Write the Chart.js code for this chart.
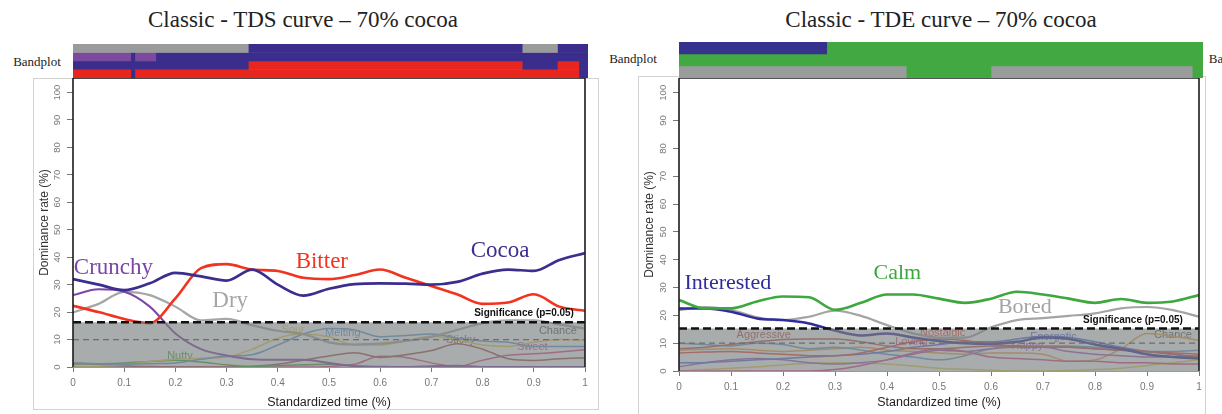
<!DOCTYPE html>
<html>
<head>
<meta charset="utf-8">
<script src="https://cdn.jsdelivr.net/npm/chart.js@4.4.1/dist/chart.umd.min.js"></script>
<style>
  body { margin: 0; width: 1222px; height: 414px; background: #fff; position: relative; overflow: hidden; }
  .txt { position: absolute; font-family: "Liberation Serif", serif; color: #222; white-space: nowrap; line-height: 1; transform: translate(-50%, -50%); }
  .frame { position: absolute; border: 1px solid #d2d2d2; }
  canvas { position: absolute; }
</style>
</head>
<body>
<div class="txt" style="left:303px; top:19px; font-size:23px;">Classic - TDS curve – 70% cocoa</div>
<div class="txt" style="left:941px; top:19px; font-size:23px;">Classic - TDE curve – 70% cocoa</div>
<div class="txt" style="left:37px; top:61px; font-size:13px;">Bandplot</div>
<div class="txt" style="left:633px; top:58px; font-size:13px;">Bandplot</div>
<div class="txt" style="left:1216px; top:58px; font-size:13px;">Ba</div>

<div class="frame" style="left:33px; top:78px; width:564px; height:330px;"></div>
<div class="frame" style="left:638px; top:76px; width:566px; height:337px;"></div>

<canvas id="tdsBand" width="515" height="34" style="left:73px; top:44px;"></canvas>
<canvas id="tdeBand" width="524" height="36" style="left:679px; top:42px;"></canvas>
<canvas id="tdsChart" width="600" height="336" style="left:0px; top:78px;"></canvas>
<canvas id="tdeChart" width="614" height="336" style="left:600px; top:78px;"></canvas>

<script>
// shared axes
const times = [0, 0.05, 0.1, 0.15, 0.2, 0.25, 0.3, 0.35, 0.4, 0.45, 0.5, 0.55, 0.6, 0.65, 0.7, 0.75, 0.8, 0.85, 0.9, 0.95, 1];
const xTickValues = [0, 0.1, 0.2, 0.3, 0.4, 0.5, 0.6, 0.7, 0.8, 0.9, 1];
const yTickValues = [0, 10, 20, 30, 40, 50, 60, 70, 80, 90, 100];
const chanceLevel = 10;

// TDS curve - dominance rate (%)
const tdsCocoa   = [32, 30, 28, 30.5, 34.3, 33, 31.5, 35.5, 30, 26, 28.5, 30.2, 30.5, 30.4, 30, 31, 34, 35.5, 35, 39, 41.5];
const tdsBitter  = [22.3, 20, 17.5, 16, 25, 36, 37.5, 35.5, 35, 32.5, 32, 33.5, 35.5, 32.5, 29.5, 26.5, 23, 23.5, 26.5, 22, 20.5];
const tdsCrunchy = [26.2, 28.3, 27.4, 22, 12.2, 6.5, 4.2, 2.8, 2.6, 2.6, 1.5, 0.3, 0, 0, 0.3, 0.5, 0, 0, 0, 0, 0];
const tdsDry     = [19.9, 23, 27.4, 26.2, 22, 17, 17.5, 15.2, 13.2, 12, 9, 8.2, 8.5, 9.5, 11, 13.5, 16, 17, 17, 15.5, 14];
const tdsMelting = [1.5, 1.2, 1, 1.2, 1.5, 2.8, 4, 4.5, 8, 12, 14, 13.5, 11, 11.5, 12, 10.5, 9.5, 9, 7.5, 7.5, 7.5];
const tdsSour    = [0, 0.3, 0.8, 2, 2.8, 3.2, 3.6, 6.5, 10.5, 12, 11, 8, 8, 9.5, 11.2, 10, 8, 7.5, 9, 10, 9.8];
const tdsNutty   = [1, 1.2, 1.5, 2, 2.5, 1.8, 0.8, 0.2, 0.5, 0.8, 1, 0.5, 0.2, 0, 0, 0, 0, 0, 0, 0, 0];
const tdsSticky  = [0, 0, 0, 0, 0, 0, 0, 0.3, 1, 2.5, 4, 5.2, 3.5, 4.5, 6, 8.5, 6.5, 3, 2.4, 3, 3.4];
const tdsSweet   = [1.5, 1, 0.5, 0.2, 0, 0, 0, 0, 0, 0, 0.2, 1, 3.9, 3.5, 1.5, 0.2, 2.5, 4.3, 4.8, 5.5, 6.3];
const tdsSignificance = 16.3;

// TDE curve - dominance rate (%)
const tdeCalm       = [25.5, 22.5, 22.5, 25, 26.8, 26.5, 22, 24.5, 27.5, 27.5, 26, 24.5, 26, 28.5, 27.5, 26, 24.5, 25.9, 24.5, 25, 27.3];
const tdeInterested = [22.5, 22.5, 21.3, 18.9, 18.3, 17.1, 14.5, 12.8, 13.5, 12, 10.8, 10, 9.8, 10.5, 12, 11.5, 9.5, 8, 6, 5, 4.5];
const tdeBored      = [21.9, 23, 22, 19.3, 18.3, 19.5, 21.7, 19.8, 16.5, 13.5, 12, 12, 15.7, 18.3, 19, 19.8, 20.7, 22.5, 23, 21.9, 19.5];
const tdeAggressive = [8, 8.5, 9.5, 10.5, 11.3, 11.5, 11.5, 10.5, 9, 8, 8, 8.5, 9, 9, 8.5, 8.5, 8, 7.5, 7, 6, 5];
const tdeNostalgic  = [6.5, 6.8, 7, 6.5, 6, 5.5, 5.5, 6.5, 8.5, 10.5, 11.5, 11, 9.5, 9, 8.5, 8.5, 8, 7.5, 7, 6.5, 6];
const tdeLoving     = [0, 0, 0, 0, 0, 0, 0.5, 2, 4, 6.5, 8, 7, 5, 4.5, 4, 3.5, 3.5, 3, 3, 2.5, 2.5];
const tdeEnergetic  = [3, 3, 3.5, 4, 4.5, 5, 5.5, 6, 7, 8.5, 9.5, 10.5, 10.5, 11.5, 12.5, 12, 10.5, 8.5, 7, 6, 5];
const tdeHappy      = [1.5, 3, 4, 4.5, 4, 3, 2.5, 3, 4, 6, 7.5, 7, 8, 8.5, 8.5, 7, 6, 5.5, 5, 5, 5.5];
const tdeUnnamedBlue   = [10, 9.5, 9, 10, 9.5, 8, 8.5, 7.5, 6, 5, 4, 5.5, 8, 9, 9, 9, 8.5, 8, 7, 7, 7.5];
const tdeUnnamedOrange = [7.5, 7.8, 8, 7.5, 7, 7.5, 8, 8.5, 7.5, 7, 6.5, 6, 6.5, 6.5, 6, 3.5, 4, 8, 13.5, 12.5, 11];
const tdeUnnamedYellow = [0, 0.5, 1, 1.5, 2.2, 2.8, 3, 2.8, 2.5, 1.8, 1, 0.6, 0.3, 0, 0, 0.2, 0.5, 1, 2, 3, 4];
const tdeSignificance = 15.3;

// band plots: [row, attribute, start, end]
const tdsBandRows = ['r1', 'r2', 'r3', 'r4'];
const tdsBands = [
  ['r1', 'Dry', 0, 0.343], ['r1', 'Cocoa', 0.343, 0.879], ['r1', 'Dry', 0.879, 0.948], ['r1', 'Cocoa', 0.948, 1.008],
  ['r2', 'Crunchy', 0, 0.113], ['r2', 'Cocoa', 0.113, 0.121], ['r2', 'Crunchy', 0.121, 0.162], ['r2', 'Cocoa', 0.162, 1.008],
  ['r3', 'Cocoa', 0, 0.343], ['r3', 'Bitter', 0.343, 0.879], ['r3', 'Cocoa', 0.879, 0.948], ['r3', 'Bitter', 0.948, 0.99], ['r3', 'Cocoa', 0.99, 1.008],
  ['r4', 'Bitter', 0, 0.113], ['r4', 'Cocoa', 0.113, 0.121], ['r4', 'Bitter', 0.121, 0.99], ['r4', 'Cocoa', 0.99, 1.008]
];
const tdeBandRows = ['r1', 'r2', 'r3'];
const tdeBands = [
  ['r1', 'Interested', 0, 0.284], ['r1', 'Calm', 0.284, 1.008],
  ['r2', 'Calm', 0, 1.008],
  ['r3', 'Bored', 0, 0.437], ['r3', 'Calm', 0.437, 0.6], ['r3', 'Bored', 0.6, 0.987], ['r3', 'Calm', 0.987, 1.008]
];

const colors = {
  Cocoa: '#3a2e8e', Bitter: '#f1331f', Crunchy: '#7c45a6', Dry: '#a6a6a6',
  Melting: '#5b9bd5', Sour: '#e3cf4f', Nutty: '#3daa3d', Sticky: '#a0524d', Sweet: '#e0458f',
  Calm: '#3da83d', Interested: '#2f2c9c', Bored: '#a4a4a4',
  Aggressive: '#c0504d', Nostalgic: '#e8463a', Loving: '#e0458f', Energetic: '#4f6fd8', Happy: '#a05ac8',
  UnnamedBlue: '#5b9bd5', UnnamedOrange: '#f0a040', UnnamedYellow: '#e0d050'
};
const bandColors = { Dry: '#9a9c9c', Cocoa: '#3b2d8c', Crunchy: '#7b4a9e', Bitter: '#e8261d',
  Calm: '#42a842', Interested: '#37318e', Bored: '#9a9c9c' };

function bandChart(id, rows, bands, maxX) {
  const datasets = bands.map(b => ({
    data: rows.map(r => r === b[0] ? [b[2], b[3]] : null),
    backgroundColor: bandColors[b[1]],
    borderColor: bandColors[b[1]],
    borderWidth: 0,
    borderSkipped: false,
    grouped: false,
    barPercentage: 1,
    categoryPercentage: 1
  }));
  new Chart(document.getElementById(id), {
    type: 'bar',
    data: { labels: rows, datasets: datasets },
    options: {
      indexAxis: 'y',
      responsive: false,
      animation: false,
      events: [],
      layout: { padding: 0 },
      plugins: { legend: { display: false }, tooltip: { enabled: false } },
      scales: {
        x: { type: 'linear', min: 0, max: maxX, display: false },
        y: { display: false }
      }
    }
  });
}

function line(name, values, width) {
  return {
    label: name,
    data: values.map((v, i) => ({ x: times[i], y: v })),
    borderColor: colors[name],
    borderWidth: width,
    pointRadius: 0,
    cubicInterpolationMode: 'monotone',
    fill: false
  };
}

function mainChart(id, curves, sig, labelsUnder, labelsOver, lay) {
  const datasets = curves.slice();
  datasets.push({
    label: 'Significance',
    data: [{ x: 0, y: sig }, { x: 1, y: sig }],
    borderColor: '#111',
    borderWidth: 2.6,
    borderDash: [8, 4],
    pointRadius: 0,
    fill: 'origin',
    backgroundColor: 'rgba(125,129,129,0.66)',
    order: -2
  });
  datasets.push({
    label: 'Chance',
    data: [{ x: 0, y: chanceLevel }, { x: 1, y: chanceLevel }],
    borderColor: '#6e6e6e',
    borderWidth: 1.3,
    borderDash: [6, 4],
    pointRadius: 0,
    fill: false,
    order: -3
  });

  function drawLabels(chart, list) {
    const ctx = chart.ctx;
    const xs = chart.scales.x, ys = chart.scales.y;
    ctx.save();
    ctx.textAlign = 'center';
    ctx.textBaseline = 'middle';
    list.forEach(l => {
      ctx.font = l.font;
      ctx.fillStyle = l.color;
      ctx.fillText(l.text, xs.getPixelForValue(l.t), ys.getPixelForValue(l.v));
    });
    ctx.restore();
  }

  const labelPlugin = {
    id: 'curveLabels',
    beforeDatasetsDraw(chart) { drawLabels(chart, labelsUnder); },
    afterDatasetsDraw(chart) {
      drawLabels(chart, labelsOver);
      const a = chart.chartArea, ctx = chart.ctx;
      ctx.save();
      ctx.strokeStyle = '#1c1c1c';
      ctx.lineWidth = 1.6;
      ctx.beginPath();
      ctx.moveTo(a.left, a.bottom);
      ctx.lineTo(a.left, a.top);
      ctx.lineTo(a.right, a.top);
      ctx.lineTo(a.right, a.bottom);
      ctx.stroke();
      ctx.restore();
    }
  };

  new Chart(document.getElementById(id), {
    type: 'line',
    data: { datasets: datasets },
    plugins: [labelPlugin],
    options: {
      responsive: false,
      animation: false,
      events: [],
      layout: { padding: { left: lay.padLeft, right: lay.padRight, top: 0, bottom: lay.padBottom } },
      plugins: { legend: { display: false }, tooltip: { enabled: false } },
      scales: {
        x: {
          type: 'linear', min: 0, max: 1,
          afterBuildTicks: s => { s.ticks = xTickValues.map(v => ({ value: v })); },
          afterFit: s => { s.height = lay.axisH; s.paddingLeft = 0; s.paddingRight = 0; },
          grid: { drawOnChartArea: false, drawTicks: true, tickLength: 5, tickColor: '#777' },
          border: { display: true, color: '#999', width: 1 },
          ticks: { color: '#777', padding: 5, font: { family: 'Liberation Sans', size: 10 }, maxRotation: 0, autoSkip: false,
                   callback: v => String(+v.toFixed(1)) },
          title: { display: true, text: 'Standardized time (%)', color: '#222',
                   font: { family: 'Liberation Sans', size: 12.5 }, padding: { top: 0, bottom: 4 } }
        },
        y: {
          type: 'linear', min: 0, max: 105.3,
          afterBuildTicks: s => { s.ticks = yTickValues.map(v => ({ value: v })); },
          afterFit: s => { s.width = lay.axisW; s.paddingTop = 0; s.paddingBottom = 0; },
          grid: { drawOnChartArea: false, drawTicks: true, tickLength: 6, tickColor: '#777' },
          border: { display: false },
          ticks: { color: '#777', padding: 2, minRotation: 90, maxRotation: 90, crossAlign: 'center', autoSkip: false,
                   font: { family: 'Liberation Sans', size: 9.5 } },
          title: { display: true, text: 'Dominance rate (%)', color: '#333',
                   font: { family: 'Liberation Sans', size: 12 }, padding: { top: 4, bottom: 0 } }
        }
      }
    }
  });
}

const big = '23px "Liberation Serif"';
const bigR = '22px "Liberation Serif"';
const small = '11px "Liberation Sans"';
const sigFont = 'bold 10px "Liberation Sans"';

bandChart('tdsBand', tdsBandRows, tdsBands, 515 / 511);
bandChart('tdeBand', tdeBandRows, tdeBands, 524 / 520);

mainChart('tdsChart', [
  line('Cocoa', tdsCocoa, 2.7), line('Bitter', tdsBitter, 2.6), line('Crunchy', tdsCrunchy, 2),
  line('Dry', tdsDry, 2.2), line('Melting', tdsMelting, 1.5), line('Sour', tdsSour, 1.5),
  line('Nutty', tdsNutty, 1.5), line('Sticky', tdsSticky, 1.5), line('Sweet', tdsSweet, 1.5)
], tdsSignificance, [
  { text: 'Nutty', t: 0.209, v: 3.9, color: colors.Nutty, font: small },
  { text: 'Sour', t: 0.43, v: 13.4, color: colors.Sour, font: small },
  { text: 'Melting', t: 0.527, v: 12.4, color: colors.Melting, font: small },
  { text: 'Sticky', t: 0.757, v: 9.8, color: colors.Sticky, font: small },
  { text: 'Sweet', t: 0.897, v: 7.3, color: colors.Sweet, font: small },
  { text: 'Chance', t: 0.947, v: 13.2, color: '#555', font: small }
], [
  { text: 'Crunchy', t: 0.079, v: 36, color: colors.Crunchy, font: big },
  { text: 'Dry', t: 0.307, v: 24.1, color: colors.Dry, font: big },
  { text: 'Bitter', t: 0.486, v: 38.4, color: colors.Bitter, font: big },
  { text: 'Cocoa', t: 0.834, v: 42.4, color: colors.Cocoa, font: big },
  { text: 'Significance (p=0.05)', t: 0.881, v: 19.6, color: '#111', font: sigFont }
], { padLeft: 33, padRight: 15, padBottom: 0, axisW: 40, axisH: 47 });

mainChart('tdeChart', [
  line('Calm', tdeCalm, 2.6), line('Interested', tdeInterested, 2.5), line('Bored', tdeBored, 2.2),
  line('Aggressive', tdeAggressive, 1.5), line('Nostalgic', tdeNostalgic, 1.5), line('Loving', tdeLoving, 1.5),
  line('Energetic', tdeEnergetic, 1.5), line('Happy', tdeHappy, 1.5), line('UnnamedBlue', tdeUnnamedBlue, 1.5),
  line('UnnamedOrange', tdeUnnamedOrange, 1.5), line('UnnamedYellow', tdeUnnamedYellow, 1.5)
], tdeSignificance, [
  { text: 'Aggressive', t: 0.163, v: 12.9, color: colors.Aggressive, font: small },
  { text: 'Nostalgic', t: 0.507, v: 13.5, color: colors.Nostalgic, font: small },
  { text: 'Loving', t: 0.447, v: 10.6, color: colors.Loving, font: small },
  { text: 'Energetic', t: 0.72, v: 12.3, color: colors.Energetic, font: small },
  { text: 'Happy', t: 0.67, v: 8.9, color: colors.Happy, font: small },
  { text: 'Chance', t: 0.95, v: 12.9, color: '#555', font: small }
], [
  { text: 'Interested', t: 0.094, v: 31.5, color: colors.Interested, font: bigR },
  { text: 'Calm', t: 0.42, v: 35, color: colors.Calm, font: bigR },
  { text: 'Bored', t: 0.665, v: 23.1, color: colors.Bored, font: bigR },
  { text: 'Significance (p=0.05)', t: 0.873, v: 18.3, color: '#111', font: sigFont }
], { padLeft: 38, padRight: 15, padBottom: 0, axisW: 41, axisH: 43 });
</script>
</body>
</html>
